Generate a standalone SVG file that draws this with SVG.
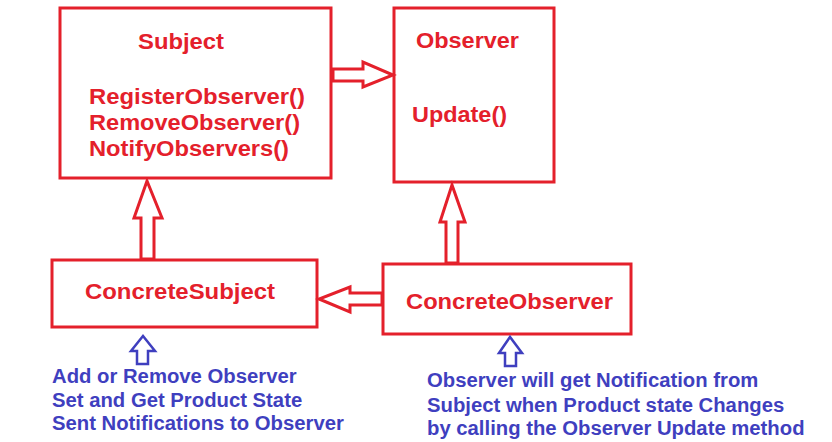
<svg xmlns="http://www.w3.org/2000/svg" width="832" height="442" viewBox="0 0 832 442">
<style>
.box{fill:#fff;stroke:#e4202b;stroke-width:3}
.rt{fill:#e4202b;font-family:"Liberation Sans",Arial,sans-serif;font-weight:bold;font-size:22.5px}
.bt{fill:#3f3fbf;font-family:"Liberation Sans",Arial,sans-serif;font-weight:bold;font-size:20.3px}
.ra{fill:#fff;stroke:#e4202b;stroke-width:3;stroke-linejoin:miter}
.ba{fill:#fff;stroke:#3f3fbf;stroke-width:2.5;stroke-linejoin:miter}
</style>
<rect width="832" height="442" fill="#fff"/>
<g id="subject">
<rect class="box" x="60" y="8" width="271" height="170"/>
<text class="rt" x="138" y="49" textLength="86" lengthAdjust="spacingAndGlyphs">Subject</text>
<text class="rt" x="89" y="104" textLength="216" lengthAdjust="spacingAndGlyphs">RegisterObserver()</text>
<text class="rt" x="89" y="130" textLength="211" lengthAdjust="spacingAndGlyphs">RemoveObserver()</text>
<text class="rt" x="89" y="156" textLength="200" lengthAdjust="spacingAndGlyphs">NotifyObservers()</text>
</g>
<g id="observer">
<rect class="box" x="394" y="8" width="160" height="174"/>
<text class="rt" x="416" y="48" textLength="103" lengthAdjust="spacingAndGlyphs">Observer</text>
<text class="rt" x="412" y="122" textLength="95" lengthAdjust="spacingAndGlyphs">Update()</text>
</g>
<g id="concrete-subject">
<rect class="box" x="52" y="260" width="265" height="67"/>
<text class="rt" x="85" y="299" textLength="190" lengthAdjust="spacingAndGlyphs">ConcreteSubject</text>
</g>
<g id="concrete-observer">
<rect class="box" x="383" y="264" width="248" height="70"/>
<text class="rt" x="406" y="309" textLength="207" lengthAdjust="spacingAndGlyphs">ConcreteObserver</text>
</g>
<g id="connectors">
<polygon class="ra" points="333,69 363,69 363,62 393,75 363,87 363,81 333,81"/>
<polygon class="ra" points="141,259 141,218 134,218 147,181 162,218 154,218 154,259"/>
<polygon class="ra" points="446,263 446,222 440,222 452,185 465,222 458,222 458,263"/>
<polygon class="ra" points="382,293 350,293 350,287 319,299 350,312 350,305 382,305"/>
<polygon class="ba" points="137,364 137,351 131,351 143,336 155,351 148,351 148,364"/>
<polygon class="ba" points="505,366 505,353 499,353 510,337 522,353 516,353 516,366"/>
</g>
<g id="notes">
<text class="bt" x="52" y="383">Add or Remove Observer</text>
<text class="bt" x="52" y="407">Set and Get Product State</text>
<text class="bt" x="52" y="430">Sent Notifications to Observer</text>
<text class="bt" x="427" y="387">Observer will get Notification from</text>
<text class="bt" x="427" y="412">Subject when Product state Changes</text>
<text class="bt" x="427" y="435">by calling the Observer Update method</text>
</g>
</svg>
